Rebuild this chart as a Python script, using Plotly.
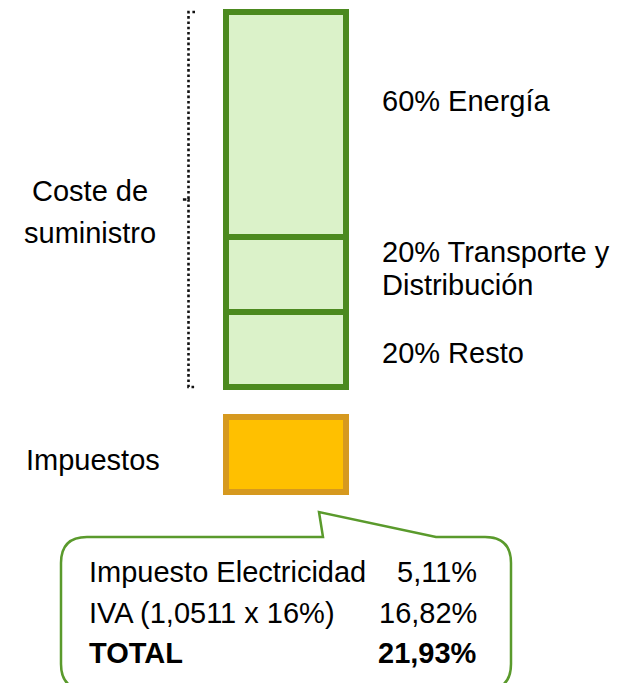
import plotly.graph_objects as go

# ---- data ----
segment_names = ["Resto", "Transporte y", "Energía"]
segment_values = [20, 20, 60]          # % of supply cost (bottom -> top)
tax_box_value = 20                     # visual height of the tax block
tax_gap = 8                            # gap between supply block and tax block
tax_rows = ["Impuesto Electricidad", "IVA (1,0511 x 16%)", "TOTAL"]
tax_values = ["5,11%", "16,82%", "21,93%"]

W, H = 629, 683
FONT = "Liberation Sans, Arial, sans-serif"
FS = 29
PX_PER_UNIT = 3.75
BAR_TOP_PX = 12
total = sum(segment_values)
y_top = total + BAR_TOP_PX / PX_PER_UNIT
y_bottom = y_top - H / PX_PER_UNIT

GREEN_LINE = "#4C8A1F"
GREEN_FILL = "#DBF2C9"
ORANGE_LINE = "#D6991F"
ORANGE_FILL = "#FFC000"
CALLOUT_LINE = "#5A9A2C"

BAR_X = 286
BAR_W = 120


def px(x, y):
    return x / W, 1 - y / H


fig = go.Figure()

# stacked supply segments
base = 0
for name, v in zip(segment_names, segment_values):
    fig.add_trace(go.Bar(
        x=[BAR_X], y=[v], base=[base], width=[BAR_W],
        marker=dict(color=GREEN_FILL, line=dict(color=GREEN_LINE, width=6)),
        hoverinfo="skip", showlegend=False, name=name,
    ))
    base += v

# tax block
fig.add_trace(go.Bar(
    x=[BAR_X], y=[tax_box_value], base=[-tax_gap - tax_box_value], width=[BAR_W],
    marker=dict(color=ORANGE_FILL, line=dict(color=ORANGE_LINE, width=6)),
    hoverinfo="skip", showlegend=False, name="Impuestos",
))

# dotted bracket
bx, hook_r, hook_l = 188.5, 195, 182
fig.add_trace(go.Scatter(
    x=[hook_r, bx, bx, hook_l, bx, bx, hook_r],
    y=[total, total, total / 2, total / 2, total / 2, 0, 0],
    mode="lines", line=dict(color="#111111", width=2.6, dash="2.6px,2.7px"),
    hoverinfo="skip", showlegend=False,
))

# callout shape
L, R, T, B, r = 61, 511, 537, 690, 26
pl, tip, pr = (323, 537), (319, 512), (436, 537)


def P(x, y):
    a, b = px(x, y)
    return f"{a:.5f},{b:.5f}"


path = (f"M{P(L + r, T)} L{P(*pl)} L{P(*tip)} L{P(*pr)} L{P(R - r, T)} "
        f"Q{P(R, T)} {P(R, T + r)} L{P(R, B - r)} Q{P(R, B)} {P(R - r, B)} "
        f"L{P(L + r, B)} Q{P(L, B)} {P(L, B - r)} L{P(L, T + r)} Q{P(L, T)} {P(L + r, T)} Z")
fig.add_shape(type="path", path=path, xref="paper", yref="paper",
              line=dict(color=CALLOUT_LINE, width=2.5), fillcolor="white", layer="above")


def text(x, y_base, s, anchor="left", bold=False):
    xx, yy = px(x, y_base - 10)
    fig.add_annotation(x=xx, y=yy, xref="paper", yref="paper", text=(f"<b>{s}</b>" if bold else s),
                       showarrow=False, xanchor=anchor, yanchor="middle",
                       font=dict(family=FONT, size=FS, color="#000000"))


seg_labels = {
    "Energía": [(f"{segment_values[2]}% Energía", 110.7)],
    "Transporte y": [(f"{segment_values[1]}% Transporte y", 261.7), ("Distribución", 295)],
    "Resto": [(f"{segment_values[0]}% Resto", 363)],
}
for name in segment_names:
    for s, yb in seg_labels[name]:
        text(380, yb, s)

text(90, 201, "Coste de", anchor="center")
text(90, 243, "suministro", anchor="center")
text(24, 470, "Impuestos")

row_base = [581.7, 622.7, 663]
for i, (lab, val) in enumerate(zip(tax_rows, tax_values)):
    bold = lab == "TOTAL"
    text(87, row_base[i], lab, bold=bold)
    text(479, row_base[i], val, anchor="right", bold=bold)

fig.update_layout(
    width=W, height=H, margin=dict(l=0, r=0, t=0, b=0),
    paper_bgcolor="white", plot_bgcolor="white", barmode="overlay",
    xaxis=dict(range=[0, W], visible=False, fixedrange=True),
    yaxis=dict(range=[y_bottom, y_top], visible=False, fixedrange=True),
    showlegend=False,
)

fig.write_html(
    "out.html",
    config={"displayModeBar": False},
    post_script="document.body.style.margin='0';document.body.style.overflow='hidden';",
)
